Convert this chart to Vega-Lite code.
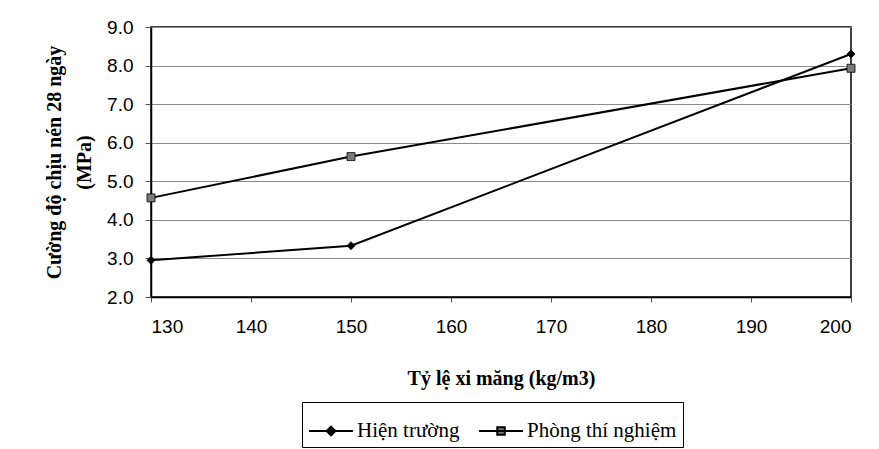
{
  "$schema": "https://vega.github.io/schema/vega-lite/v6.json",
  "width": 700,
  "height": 270,
  "autosize": {"type": "none"},
  "padding": {"left": 151, "top": 27, "right": 28, "bottom": 152},
  "background": "white",
  "data": {
    "values": [
      {"series": "Hiện trường", "x": 130, "y": 2.95},
      {"series": "Hiện trường", "x": 150, "y": 3.33},
      {"series": "Hiện trường", "x": 200, "y": 8.3},
      {"series": "Phòng thí nghiệm", "x": 130, "y": 4.57},
      {"series": "Phòng thí nghiệm", "x": 150, "y": 5.64},
      {"series": "Phòng thí nghiệm", "x": 200, "y": 7.93}
    ]
  },
  "encoding": {
    "x": {
      "field": "x", "type": "quantitative",
      "scale": {"domain": [130, 200], "nice": false, "zero": false},
      "axis": {
        "values": [130, 140, 150, 160, 170, 180, 190, 200],
        "title": "Tỷ lệ xi măng (kg/m3)",
        "grid": false,
        "labelFont": "Liberation Sans", "labelFontSize": 19, "labelColor": "black",
        "labelPadding": 15, "tickSize": 5, "tickColor": "#555",
        "domainColor": "black", "domainWidth": 1.5,
        "titleFont": "Liberation Serif", "titleFontSize": 20, "titleFontWeight": "bold",
        "titleColor": "black", "titlePadding": 32
      }
    },
    "y": {
      "field": "y", "type": "quantitative",
      "scale": {"domain": [2, 9], "nice": false, "zero": false},
      "axis": {
        "values": [2, 3, 4, 5, 6, 7, 8, 9],
        "format": ".1f",
        "title": ["Cường độ chịu nén 28 ngày", "(MPa)"],
        "grid": true, "gridColor": "#8a8a8a", "gridWidth": 1,
        "labelFont": "Liberation Sans", "labelFontSize": 19, "labelColor": "black",
        "labelPadding": 12, "tickSize": 6, "tickColor": "#555",
        "domainColor": "black", "domainWidth": 1.5,
        "titleFont": "Liberation Serif", "titleFontSize": 20, "titleFontWeight": "bold",
        "titleColor": "black", "titleLineHeight": 30, "titlePadding": 12
      }
    }
  },
  "layer": [
    {
      "mark": {"type": "line", "color": "black", "strokeWidth": 2},
      "encoding": {"detail": {"field": "series"}}
    },
    {
      "mark": {"type": "point", "filled": true, "size": 64, "stroke": "black", "strokeWidth": 0.8, "opacity": 1},
      "encoding": {
        "shape": {"condition": {"test": "datum.series === 'Hiện trường'", "value": "diamond"}, "value": "square"},
        "fill": {"condition": {"test": "datum.series === 'Hiện trường'", "value": "black"}, "value": "#7a7a7a"}
      }
    },
    {
      "mark": {"type": "point", "filled": true, "opacity": 0, "stroke": "black", "strokeWidth": 2},
      "encoding": {
        "shape": {
          "field": "series", "type": "nominal",
          "scale": {
            "domain": ["Hiện trường", "Phòng thí nghiệm"],
            "range": ["M-1,0H1M0,-0.2L0.2,0L0,0.2L-0.2,0Z", "M-1,0H1M-0.17,-0.17H0.17V0.17H-0.17Z"]
          },
          "legend": {
            "title": null, "orient": "none", "legendX": 151, "legendY": 375,
            "direction": "horizontal",
            "strokeColor": "black", "padding": 6, "fillColor": "white",
            "symbolSize": 1936, "symbolOpacity": 1, "symbolStrokeWidth": 2,
            "labelFont": "Liberation Serif", "labelFontSize": 21, "labelColor": "black",
            "labelOffset": 3, "columnPadding": 15, "symbolOffset": 0
          }
        },
        "fill": {
          "field": "series", "type": "nominal",
          "scale": {"domain": ["Hiện trường", "Phòng thí nghiệm"], "range": ["black", "#7a7a7a"]},
          "legend": {
            "title": null, "orient": "none", "legendX": 151, "legendY": 375,
            "direction": "horizontal",
            "strokeColor": "black", "padding": 6, "fillColor": "white",
            "symbolSize": 1936, "symbolOpacity": 1, "symbolStrokeWidth": 2,
            "labelFont": "Liberation Serif", "labelFontSize": 21, "labelColor": "black",
            "labelOffset": 3, "columnPadding": 15, "symbolOffset": 0
          }
        }
      }
    }
  ],
  "config": {
    "view": {"stroke": "black", "strokeWidth": 1.5}
  }
}
